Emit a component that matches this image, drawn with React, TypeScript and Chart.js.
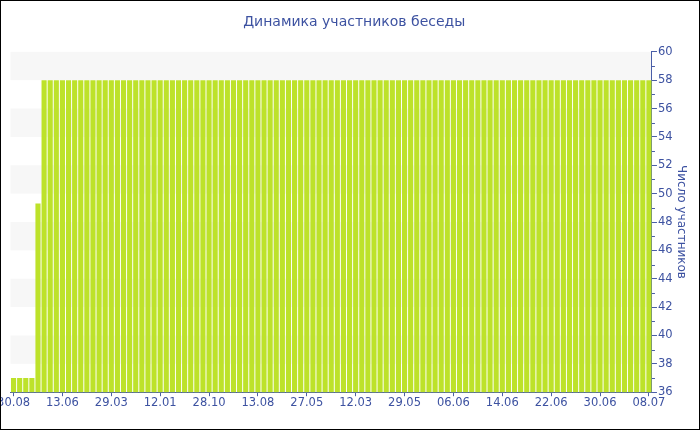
import React, { useEffect, useRef } from "react";
import { Chart, registerables } from "chart.js";

Chart.register(...registerables);

const TITLE = "Динамика участников беседы";
const Y_TITLE = "Число участников";
const TICK_LABELS = ["30.08", "13.06", "29.03", "12.01", "28.10", "13.08", "27.05", "12.03", "29.05", "06.06", "14.06", "22.06", "30.06", "08.07"];
const LABEL_EVERY = 8;
const VALUES = [
  37, 37, 37, 37, 49.3,
  58, 58, 58, 58, 58, 58, 58, 58, 58, 58, 58, 58, 58, 58, 58, 58, 58, 58, 58, 58,
  58, 58, 58, 58, 58, 58, 58, 58, 58, 58, 58, 58, 58, 58, 58, 58, 58, 58, 58, 58,
  58, 58, 58, 58, 58, 58, 58, 58, 58, 58, 58, 58, 58, 58, 58, 58, 58, 58, 58, 58,
  58, 58, 58, 58, 58, 58, 58, 58, 58, 58, 58, 58, 58, 58, 58, 58, 58, 58, 58, 58,
  58, 58, 58, 58, 58, 58, 58, 58, 58, 58, 58, 58, 58, 58, 58, 58, 58, 58, 58, 58,
];
const Y_MIN = 36;
const Y_MAX = 60;

const TEXT = "#3d52a1";
const AXIS = "#4a5ea8";
const BAR = "#bde22a";
const BAND = "#f7f7f7";
const FONT = "'DejaVu Sans', Verdana, sans-serif";

const CATEGORIES = VALUES.map((_, i) => (i % LABEL_EVERY === 0 ? TICK_LABELS[i / LABEL_EVERY] ?? "" : ""));

const bandsPlugin = {
  id: "bands",
  beforeDraw(chart: any) {
    const { ctx, chartArea } = chart;
    const y = chart.scales.y;
    ctx.save();
    ctx.fillStyle = BAND;
    for (let v = Y_MIN + 2; v < Y_MAX; v += 4) {
      const top = y.getPixelForValue(v + 2);
      const bot = y.getPixelForValue(v);
      ctx.fillRect(chartArea.left, top, chartArea.right - chartArea.left, bot - top);
    }
    ctx.restore();
  },
  afterDraw(chart: any) {
    const { ctx, chartArea } = chart;
    const y = chart.scales.y;
    ctx.save();
    ctx.strokeStyle = AXIS;
    ctx.lineWidth = 1;
    for (let v = Y_MIN + 1; v < Y_MAX; v += 2) {
      const py = Math.round(y.getPixelForValue(v)) + 0.5;
      ctx.beginPath();
      ctx.moveTo(chartArea.right, py);
      ctx.lineTo(chartArea.right + 3, py);
      ctx.stroke();
    }
    ctx.restore();
  },
};

export default function App() {
  const ref = useRef<HTMLCanvasElement>(null);
  useEffect(() => {
    document.body.style.margin = "0";
    const chart = new Chart(ref.current!, {
      type: "bar",
      data: {
        labels: CATEGORIES,
        datasets: [
          {
            data: VALUES,
            backgroundColor: BAR,
            borderWidth: 0,
            categoryPercentage: 1,
            barPercentage: 0.84,
          },
        ],
      },
      options: {
        animation: false,
        responsive: false,
        maintainAspectRatio: false,
        layout: { padding: { top: 0, right: 1, bottom: 19, left: 9.5 } },
        plugins: {
          legend: { display: false },
          tooltip: { enabled: false },
          title: {
            display: true,
            text: TITLE,
            color: TEXT,
            font: { family: FONT, size: 14, weight: "normal" },
            padding: { top: 13, bottom: 21 },
          },
        },
        scales: {
          x: {
            type: "category",
            offset: true,
            border: { display: true, color: AXIS, width: 1 },
            grid: {
              offset: false,
              drawOnChartArea: false,
              drawTicks: true,
              tickLength: 4,
              color: (ctx: any) => (ctx.index % LABEL_EVERY === 0 ? AXIS : "rgba(0,0,0,0)"),
            },
            ticks: {
              autoSkip: false,
              maxRotation: 0,
              minRotation: 0,
              padding: 0,
              color: TEXT,
              font: { family: FONT, size: 11.5 },
              callback: (_v: any, i: number) => CATEGORIES[i],
            },
            afterFit: (scale: any) => {
              scale.paddingLeft = 0;
              scale.paddingRight = 0;
            },
          },
          y: {
            position: "right",
            min: Y_MIN,
            max: Y_MAX,
            border: { display: true, color: AXIS, width: 1 },
            grid: {
              drawOnChartArea: false,
              drawTicks: true,
              tickLength: 5,
              color: AXIS,
            },
            ticks: {
              stepSize: 2,
              padding: 1,
              color: TEXT,
              font: { family: FONT, size: 11.5 },
            },
            title: {
              display: true,
              text: Y_TITLE,
              color: TEXT,
              font: { family: FONT, size: 12 },
              padding: { top: 10, bottom: 0 },
            },
          },
        },
      },
      plugins: [bandsPlugin],
    } as any);
    return () => chart.destroy();
  }, []);
  return (
    <div style={{ width: 700, height: 430, boxSizing: "border-box", border: "1px solid #000", background: "#fff" }}>
      <canvas ref={ref} width={698} height={428} style={{ display: "block" }} />
    </div>
  );
}
